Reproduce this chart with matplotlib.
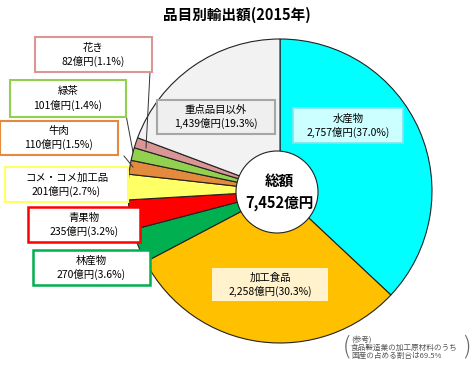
import matplotlib
matplotlib.use("Agg")
import matplotlib.pyplot as plt
from matplotlib.patches import Rectangle, Circle

plt.rcParams['font.family'] = ['Noto Sans CJK JP', 'DejaVu Sans']

# ---- data ----
names = ['水産物', '加工食品', '林産物', '青果物', 'コメ・コメ加工品', '牛肉', '緑茶', '花き', '重点品目以外']
values = [2757, 2258, 270, 235, 201, 110, 101, 82, 1439]
pcts = [37.0, 30.3, 3.6, 3.2, 2.7, 1.5, 1.4, 1.1, 19.3]
total_label = '総額\n7,452億円'
title = '品目別輸出額(2015年)'
note = '(参考)\n食品製造業の加工原材料のうち\n国産の占める割合は69.5%'

colors = ['#00FFFF', '#FFC000', '#00B050', '#FF0000', '#FFFF66',
          '#E48A3C', '#92D050', '#D99694', '#F2F2F2']

W, H = 474, 365
fig = plt.figure(figsize=(W / 100, H / 100), dpi=100)
ax = fig.add_axes([0, 0, 1, 1])

def Y(p):
    return H - p

cx, cy, R = 280, 191, 152
ax.pie(values, colors=colors, startangle=90, counterclock=False,
       center=(cx, Y(cy)), radius=R, frame=True,
       wedgeprops=dict(edgecolor='#222222', linewidth=0.8))
ax.set_xlim(0, W)
ax.set_ylim(0, H)
ax.set_aspect('equal')
ax.axis('off')

# center circle
ax.add_patch(Circle((277, Y(192)), 41, facecolor='white', edgecolor='#222222', lw=0.8, zorder=5))
ax.text(279, Y(192), total_label, ha='center', va='center', fontsize=10.5,
        fontweight='bold', linespacing=1.4, zorder=6)

# label boxes (pixel coords x0, y0, x1, y1), facecolor, edgecolor, lw
boxes = [
    ((293, 108, 403, 143), '#CCFFFF', '#7FE5F0', 1.2),
    ((212, 268, 328, 301), '#FFF2CC', 'none', 0),
    ((33, 250, 150, 285), 'white', '#00B050', 1.8),
    ((28, 207, 140, 242), 'white', '#FF0000', 1.8),
    ((5, 167, 128, 202), 'white', '#FFFF66', 1.5),
    ((0, 121, 118, 155), 'white', '#E48A3C', 1.5),
    ((10, 80, 126, 117), 'white', '#92D050', 1.5),
    ((35, 37, 152, 72), 'white', '#D99694', 1.5),
    ((157, 100, 275, 134), '#EFEFEF', '#A6A6A6', 1.5),
]

# leader lines (pixel coords)
leaders = [((150, 72), (146, 148)), ((126, 115), (133, 152)), ((124, 156), (133, 167))]
for (x0, y0), (x1, y1) in leaders:
    ax.plot([x0, x1], [Y(y0), Y(y1)], color='#333333', lw=0.7, zorder=3)

for name, v, p, (b, fc, ec, lw) in zip(names, values, pcts, boxes):
    x0, y0, x1, y1 = b
    ax.add_patch(Rectangle((x0, Y(y1)), x1 - x0, y1 - y0, facecolor=fc,
                           edgecolor=ec, lw=lw, zorder=4))
    xm = (x0 + x1) / 2
    h = y1 - y0
    ax.text(xm, Y(y0 + h * 0.30), name, ha='center', va='center', fontsize=7.5, zorder=6)
    ax.text(xm, Y(y0 + h * 0.70), f'{v:,}億円({p}%)', ha='center', va='center',
            fontsize=7.5, zorder=6)

ax.text(237, Y(15), title, ha='center', va='center', fontsize=10.5, fontweight='bold')

# note
ax.text(351, Y(348), note, ha='left', va='center', fontsize=5.5, color='#555555',
        linespacing=1.0)
ax.text(347, Y(347), '(', ha='center', va='center', fontsize=17, color='#666666',
        fontweight='light')
ax.text(467, Y(347), ')', ha='center', va='center', fontsize=17, color='#666666',
        fontweight='light')

fig.savefig('out.png', dpi=100)
